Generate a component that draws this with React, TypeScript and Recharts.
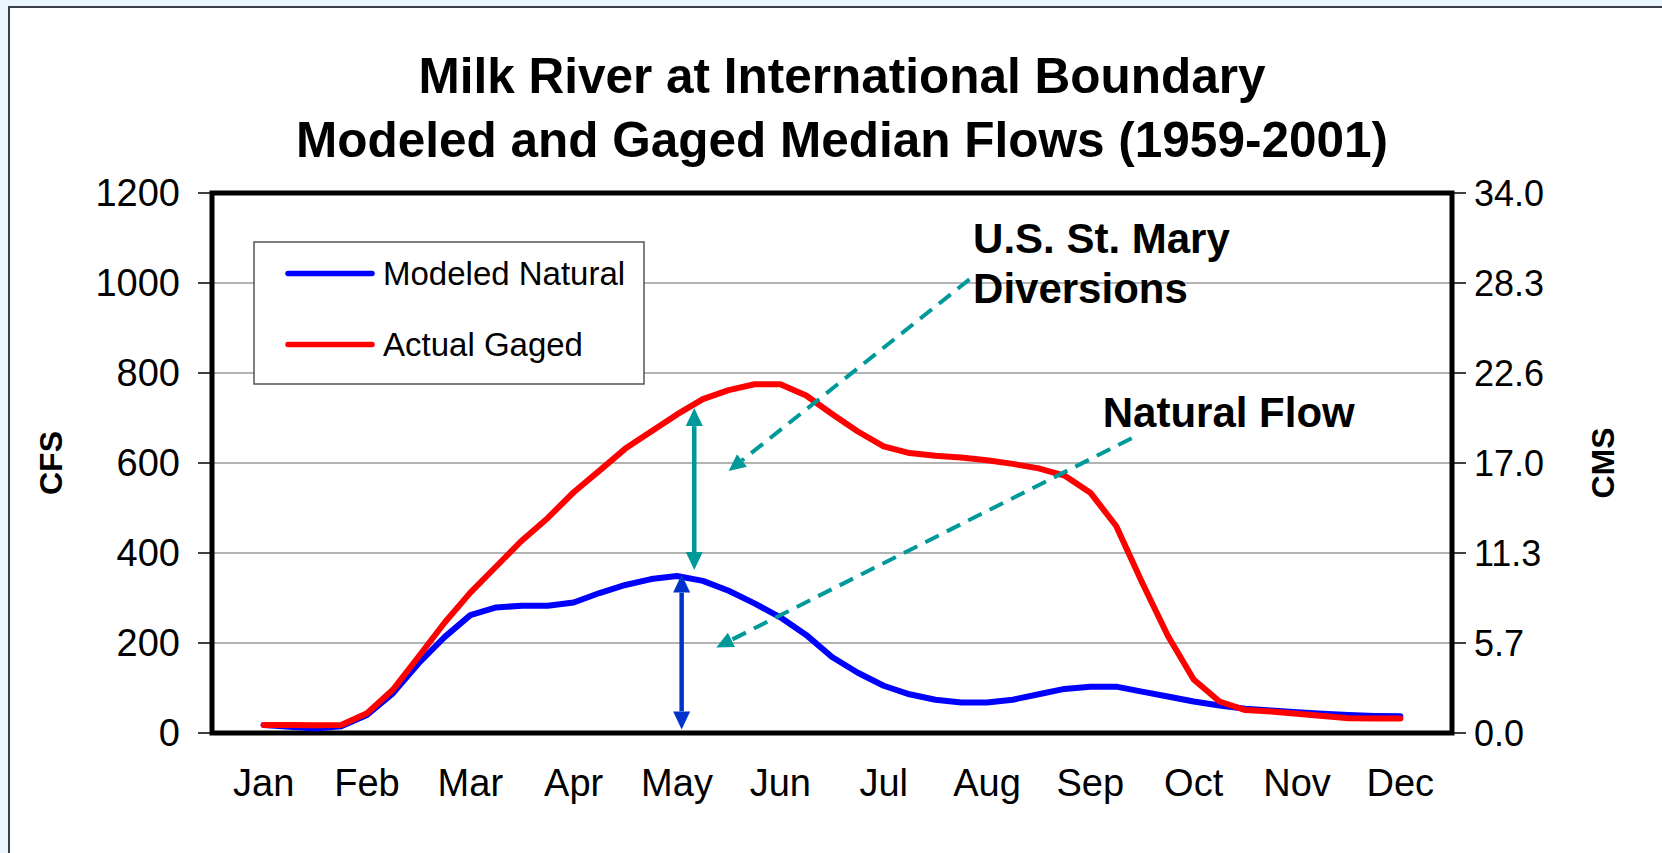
import React from 'react';
import {
  LineChart,
  Line,
  XAxis,
  YAxis,
  CartesianGrid,
  ReferenceLine,
  ReferenceArea,
  ReferenceDot,
  Legend,
  Label,
} from 'recharts';

// ---------- DATA ----------
// sample positions along the year, in months (0 = start of Jan, 12 = end of Dec)
const sampleMonths = [
  0.5, 0.75, 1.0, 1.25, 1.5, 1.75, 2.0, 2.25, 2.5, 2.75, 3.0, 3.25, 3.5, 3.75, 4.0,
  4.25, 4.5, 4.75, 5.0, 5.25, 5.5, 5.75, 6.0, 6.25, 6.5, 6.75, 7.0, 7.25, 7.5, 7.75,
  8.0, 8.25, 8.5, 8.75, 9.0, 9.25, 9.5, 9.75, 10.0, 10.25, 10.5, 10.75, 11.0, 11.25, 11.5,
];
// Modeled Natural median flow (cfs)
const modeledNatural = [
  18, 14, 10, 15, 40, 88, 155, 213, 262, 279, 283, 283, 290, 311, 329,
  342, 349, 338, 316, 288, 257, 218, 169, 134, 105, 86, 74, 68, 68, 74,
  86, 98, 103, 103, 92, 81, 70, 61, 54, 50, 46, 43, 40, 38, 37,
];
// Actual Gaged median flow (cfs)
const actualGaged = [
  18, 18, 17, 18, 44, 96, 170, 245, 312, 370, 428, 478, 535, 583, 632,
  670, 708, 742, 762, 775, 775, 750, 709, 670, 637, 622, 616, 612, 606, 598,
  588, 572, 534, 460, 335, 216, 119, 70, 51, 48, 43, 38, 33, 32, 32,
];

const seriesNames = ['Modeled Natural', 'Actual Gaged'];
const monthLabels = ['Jan', 'Feb', 'Mar', 'Apr', 'May', 'Jun', 'Jul', 'Aug', 'Sep', 'Oct', 'Nov', 'Dec'];
const monthCenters = [0.5, 1.5, 2.5, 3.5, 4.5, 5.5, 6.5, 7.5, 8.5, 9.5, 10.5, 11.5];
const monthBoundaries = [0, 1, 2, 3, 4, 5, 6, 7, 8, 9, 10, 11, 12];
const cfsTicks = [0, 200, 400, 600, 800, 1000, 1200];
const cmsTickLabels = ['0.0', '5.7', '11.3', '17.0', '22.6', '28.3', '34.0'];

const titleLines = ['Milk River at International Boundary', 'Modeled and Gaged Median Flows (1959-2001)'];

// annotation anchors (data coordinates: month, cfs)
const diversionArrow = [{ x: 4.667, y: 722 }, { x: 4.667, y: 362 }];
const naturalArrow = [{ x: 4.545, y: 352 }, { x: 4.545, y: 8 }];
const diversionPointer = [{ x: 7.33, y: 1008 }, { x: 5.0, y: 582 }];
const naturalPointer = [{ x: 8.9, y: 655 }, { x: 4.88, y: 190 }];
const diversionTextAnchor = { x: 7.365, y: 1067 };
const naturalTextAnchor = { x: 8.62, y: 681 };

const data = sampleMonths.map((m, i) => ({
  m,
  natural: modeledNatural[i],
  gaged: actualGaged[i],
}));

// ---------- STYLE ----------
const FONT = '"Liberation Sans", Arial, Helvetica, sans-serif';
const TEAL = '#009999';
const ARROW_BLUE = '#0033CC';

const unitVectors = (x1: number, y1: number, x2: number, y2: number) => {
  const dx = x2 - x1;
  const dy = y2 - y1;
  const len = Math.hypot(dx, dy) || 1;
  const ux = dx / len;
  const uy = dy / len;
  return { ux, uy, px: -uy, py: ux };
};

const makeDoubleArrow = (color: string, sw: number, hl: number, hw: number) => (props: any) => {
  const { x1, y1, x2, y2 } = props;
  const { ux, uy, px, py } = unitVectors(x1, y1, x2, y2);
  const ax = x1 + ux * hl;
  const ay = y1 + uy * hl;
  const bx = x2 - ux * hl;
  const by = y2 - uy * hl;
  return (
    <g>
      <line x1={ax} y1={ay} x2={bx} y2={by} stroke={color} strokeWidth={sw} />
      <polygon
        points={`${x1},${y1} ${ax + px * hw},${ay + py * hw} ${ax - px * hw},${ay - py * hw}`}
        fill={color}
      />
      <polygon
        points={`${x2},${y2} ${bx + px * hw},${by + py * hw} ${bx - px * hw},${by - py * hw}`}
        fill={color}
      />
    </g>
  );
};

const dashedPointer = (props: any) => {
  const { x1, y1, x2, y2 } = props;
  const hl = 17;
  const hw = 8;
  const { ux, uy, px, py } = unitVectors(x1, y1, x2, y2);
  const bx = x2 - ux * hl;
  const by = y2 - uy * hl;
  return (
    <g>
      <line x1={x1} y1={y1} x2={bx} y2={by} stroke={TEAL} strokeWidth={4} strokeDasharray="15 9" />
      <polygon
        points={`${x2},${y2} ${bx + px * hw},${by + py * hw} ${bx - px * hw},${by - py * hw}`}
        fill={TEAL}
      />
    </g>
  );
};

const diversionText = (props: any) => {
  const { cx, cy } = props;
  return (
    <text x={cx} y={cy} fontFamily={FONT} fontWeight="bold" fontSize={42} fill="#000">
      <tspan x={cx}>U.S. St. Mary</tspan>
      <tspan x={cx} dy={50}>Diversions</tspan>
    </text>
  );
};

const naturalText = (props: any) => {
  const { cx, cy } = props;
  return (
    <text x={cx} y={cy} fontFamily={FONT} fontWeight="bold" fontSize={42} fill="#000">
      Natural Flow
    </text>
  );
};

const axisTitle = (text: string, dx: number) => (props: any) => {
  const vb = props.viewBox || { x: 0, y: 0, width: 0, height: 0 };
  const cx = vb.x + dx;
  const cy = vb.y + vb.height / 2;
  return (
    <text
      x={cx}
      y={cy}
      transform={`rotate(-90 ${cx} ${cy})`}
      textAnchor="middle"
      dominantBaseline="central"
      fontFamily={FONT}
      fontWeight="bold"
      fontSize={32}
      fill="#000"
    >
      {text}
    </text>
  );
};

const renderLegend = (props: any) => {
  const payload = [...(props.payload || [])].sort(
    (a: any, b: any) => seriesNames.indexOf(a.value) - seriesNames.indexOf(b.value),
  );
  const rowY = [31.5, 102.5];
  return (
    <svg width={392} height={144} style={{ display: 'block' }}>
      <rect x={1} y={1} width={390} height={142} fill="#fff" stroke="#555" strokeWidth={1.5} />
      {payload.map((entry: any, i: number) => (
        <g key={i}>
          <line
            x1={35}
            y1={rowY[i] + 1}
            x2={119}
            y2={rowY[i] + 1}
            stroke={entry.color}
            strokeWidth={5.5}
            strokeLinecap="round"
          />
          <text x={130} y={rowY[i] + 12.5} fontFamily={FONT} fontSize={33} fill="#000">
            {entry.value}
          </text>
        </g>
      ))}
    </svg>
  );
};

export default function App() {
  return (
    <div
      style={{
        position: 'absolute',
        left: 0,
        top: 0,
        width: 1662,
        height: 853,
        background: '#EAF5FD',
        overflow: 'hidden',
        fontFamily: FONT,
      }}
    >
      <div
        style={{
          position: 'absolute',
          left: 8,
          top: 6,
          right: 0,
          bottom: 0,
          background: '#fff',
          borderLeft: '2px solid #3B4046',
          borderTop: '2px solid #3B4046',
        }}
      />
      <div
        style={{
          position: 'absolute',
          left: 0,
          top: 44,
          width: 1684,
          textAlign: 'center',
          fontWeight: 'bold',
          fontSize: 49.5,
          lineHeight: '64px',
          color: '#000',
          whiteSpace: 'nowrap',
        }}
      >
        {titleLines.map((t, i) => (
          <div key={i}>{t}</div>
        ))}
      </div>
      <div style={{ position: 'absolute', left: 0, top: 0 }}>
        <LineChart
          width={1662}
          height={853}
          data={data}
          margin={{ top: 193, right: 0, bottom: 0, left: 0 }}
        >
          <CartesianGrid vertical={false} stroke="#9a9a9a" strokeWidth={1.5} />
          <XAxis
            xAxisId={0}
            dataKey="m"
            type="number"
            domain={[0, 12]}
            ticks={monthBoundaries}
            interval={0}
            height={12}
            tickSize={12}
            tick={false}
            axisLine={false}
            tickLine={{ stroke: '#000', strokeWidth: 1.5 }}
            allowDataOverflow
          />
          <XAxis
            xAxisId="labels"
            dataKey="m"
            type="number"
            domain={[0, 12]}
            ticks={monthCenters}
            interval={0}
            height={108}
            tickSize={0}
            tickMargin={24}
            tickLine={false}
            axisLine={false}
            tickFormatter={(v: number, i: number) => monthLabels[i]}
            tick={{ fontSize: 38, fill: '#000', fontFamily: FONT }}
            allowDataOverflow
          />
          <YAxis
            yAxisId={0}
            type="number"
            domain={[0, 1200]}
            ticks={cfsTicks}
            interval={0}
            width={212}
            tickSize={14}
            tickMargin={18}
            axisLine={false}
            tickLine={{ stroke: '#000', strokeWidth: 1.5 }}
            tick={{ fontSize: 38, fill: '#000', fontFamily: FONT }}
            allowDataOverflow
          >
            <Label content={axisTitle('CFS', 51)} />
          </YAxis>
          <YAxis
            yAxisId="cms"
            orientation="right"
            type="number"
            domain={[0, 1200]}
            ticks={cfsTicks}
            interval={0}
            width={210}
            tickSize={14}
            tickMargin={8}
            axisLine={false}
            tickLine={{ stroke: '#000', strokeWidth: 1.5 }}
            tickFormatter={(v: number, i: number) => cmsTickLabels[i]}
            tick={{ fontSize: 36, fill: '#000', fontFamily: FONT }}
            allowDataOverflow
          >
            <Label content={axisTitle('CMS', 151)} />
          </YAxis>
          <ReferenceArea
            x1={0}
            x2={12}
            y1={0}
            y2={1200}
            fill="none"
            stroke="#000"
            strokeWidth={5}
            ifOverflow="visible"
          />
          <Line
            dataKey="natural"
            name={seriesNames[0]}
            type="linear"
            stroke="#0000FF"
            strokeWidth={6}
            strokeLinejoin="round"
            strokeLinecap="round"
            dot={false}
            activeDot={false}
            isAnimationActive={false}
          />
          <Line
            dataKey="gaged"
            name={seriesNames[1]}
            type="linear"
            stroke="#FF0000"
            strokeWidth={6}
            strokeLinejoin="round"
            strokeLinecap="round"
            dot={false}
            activeDot={false}
            isAnimationActive={false}
          />
          <ReferenceLine segment={diversionArrow} shape={makeDoubleArrow(TEAL, 4.5, 18, 8.5)} ifOverflow="visible" />
          <ReferenceLine segment={naturalArrow} shape={makeDoubleArrow(ARROW_BLUE, 4.5, 18, 8.5)} ifOverflow="visible" />
          <ReferenceLine segment={diversionPointer} shape={dashedPointer} ifOverflow="visible" />
          <ReferenceLine segment={naturalPointer} shape={dashedPointer} ifOverflow="visible" />
          <ReferenceDot x={diversionTextAnchor.x} y={diversionTextAnchor.y} r={0} shape={diversionText} ifOverflow="visible" />
          <ReferenceDot x={naturalTextAnchor.x} y={naturalTextAnchor.y} r={0} shape={naturalText} ifOverflow="visible" />
          <Legend
            layout="vertical"
            align="center"
            verticalAlign="middle"
            content={renderLegend}
            wrapperStyle={{ left: 253, top: 241, width: 392, height: 144 }}
          />
        </LineChart>
      </div>
    </div>
  );
}
